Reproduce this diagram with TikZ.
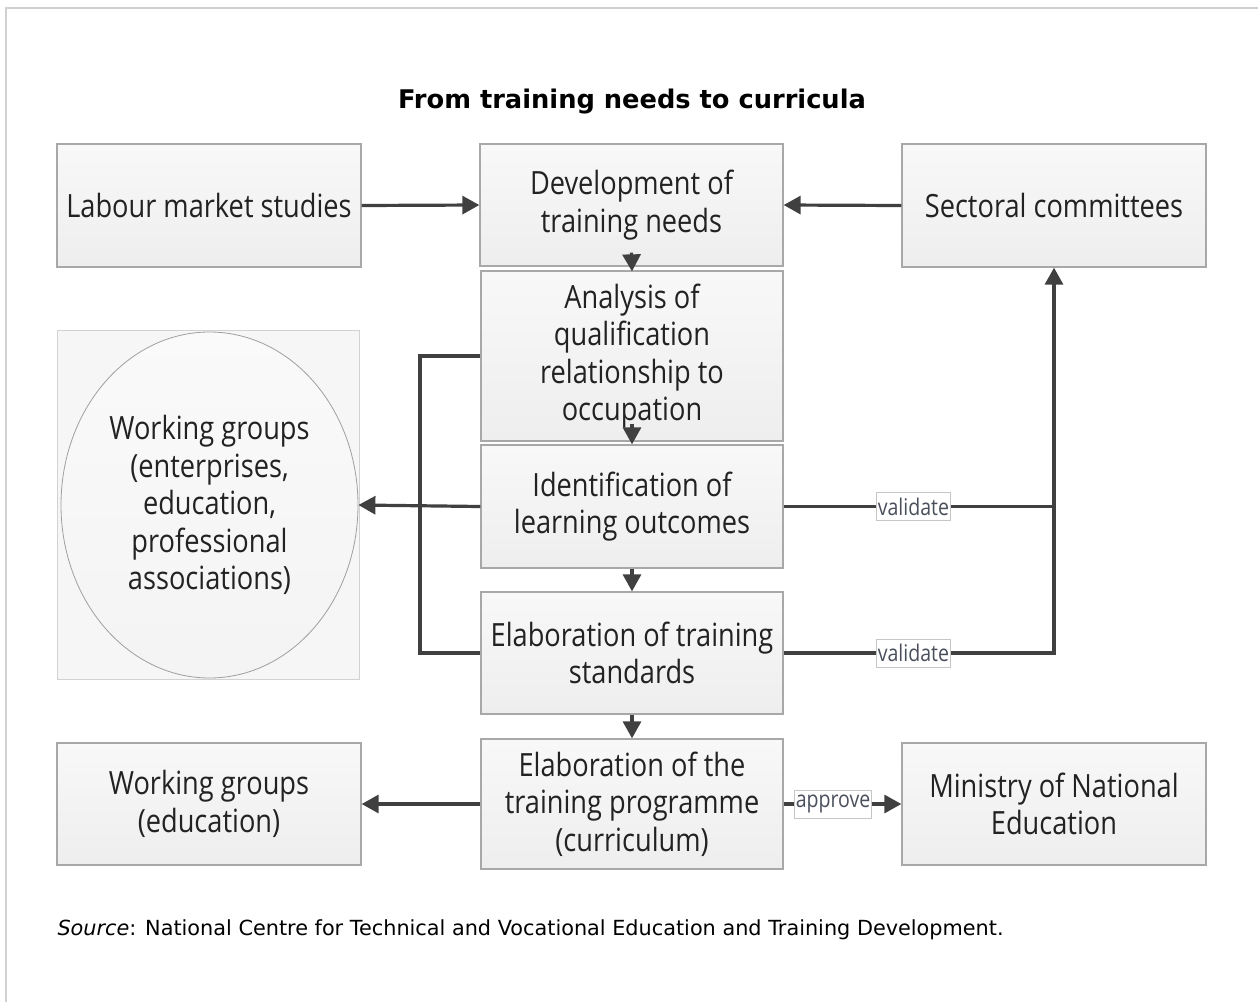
\documentclass[tikz,border=0pt]{standalone}
\usepackage{fontspec}
\setmainfont{DejaVu Sans}
\newfontfamily\boxfont[FakeStretch=0.85]{Open Sans}
\usetikzlibrary{arrows.meta,shapes.geometric}
\definecolor{boxborder}{HTML}{A8A8A8}
\definecolor{boxtop}{HTML}{F8F8F8}
\definecolor{boxbot}{HTML}{EEEEEE}
\definecolor{txt}{HTML}{222222}
\definecolor{linec}{HTML}{404040}
\definecolor{labtxt}{HTML}{4A4F5C}
\definecolor{framec}{HTML}{D0D0D0}
\tikzset{
  box/.style={draw=boxborder, line width=1.3pt, top color=boxtop, bottom color=boxbot,
    inner sep=0pt, align=center, text=txt,
    font=\boxfont\fontsize{32}{37.5}\selectfont},
  conn/.style={draw=linec, line width=3.2pt},
  arr/.style={conn, -{Triangle[length=17pt,width=18pt]}},
  lab/.style={draw=gray!45, line width=0.8pt, fill=white, text=labtxt, inner sep=1.2pt,
    font=\boxfont\fontsize{23}{26}\selectfont, minimum height=28pt}
}
\begin{document}
\begin{tikzpicture}[x=1pt,y=-1pt]
\useasboundingbox (0,0) rectangle (1258,1002);
\draw[framec, line width=2pt] (6,1002) -- (6,8) -- (1258,8);

\node[font=\bfseries\fontsize{25.7}{30}\selectfont] (title) at (632,101.5) {From training needs to curricula};

\node[box, minimum width=304pt, minimum height=123pt] (lab1) at (209,205.5) {Labour market studies};
\node[box, minimum width=303pt, minimum height=122pt] (dev) at (631.5,205) {Development of\\training needs};
\node[box, minimum width=304pt, minimum height=123pt] (sect) at (1054,205.5) {Sectoral committees};
\node[box, minimum width=302pt, minimum height=170pt] (ana) at (632,356) {Analysis of\\qualification\\relationship to\\occupation};
\node[box, minimum width=302pt, minimum height=123pt] (ident) at (632,506.5) {Identification of\\learning outcomes};
\node[box, minimum width=302pt, minimum height=122pt] (stand) at (632,653) {Elaboration of training\\standards};
\node[box, minimum width=302pt, minimum height=130pt] (prog) at (632,804) {Elaboration of the\\training programme\\(curriculum)};
\node[box, minimum width=304pt, minimum height=122pt] (wgedu) at (209,804) {Working groups\\(education)};
\node[box, minimum width=304pt, minimum height=122pt] (mini) at (1054,804) {Ministry of National\\Education};

\node[draw=gray!35, line width=0.8pt, fill=gray!7, minimum width=302pt, minimum height=349pt] (wgframe) at (208,504.5) {};
\node[ellipse, draw=gray!75, line width=0.8pt, top color=gray!4, bottom color=gray!9,
  minimum width=297pt, minimum height=346pt, inner sep=0pt, align=center, text=txt,
  font=\boxfont\fontsize{32}{37.5}\selectfont] (ell) at (209.5,505)
  {Working groups\\(enterprises,\\education,\\professional\\associations)};

% main flow
\draw[arr] (lab1.east) -- (dev.west);
\draw[arr] (sect.west) -- (dev.east);
\draw[arr] ([yshift=14pt]dev.south) -- ([yshift=-1pt]ana.north);
\draw[arr] ([yshift=18pt]ana.south) -- (ident.north);
\draw[arr] (ident.south) -- (stand.north);
\draw[arr] (stand.south) -- (prog.north);

% left side
\coordinate (lx) at (420,0);
\draw[conn] (ana.west) -| (lx |- stand.west) -- (stand.west);
\draw[arr] (ident.west) -- (ell.east);
\draw[arr] (prog.west) -- (wgedu.east);

% right side
\draw[arr] (ident.east) -- node[lab, pos=0.48] {validate} (sect.south |- ident.east) -- (sect.south);
\draw[conn] (stand.east) -| node[lab, pos=0.24] {validate} (sect.south |- ident.east);
\draw[arr] (prog.east) -- node[lab, pos=0.42] {approve} (mini.west);

\node[anchor=west, font=\fontsize{20.8}{24}\selectfont] (src) at (54,930)
  {\textit{Source}: National Centre for Technical and Vocational Education and Training Development.};
\end{tikzpicture}
\end{document}
